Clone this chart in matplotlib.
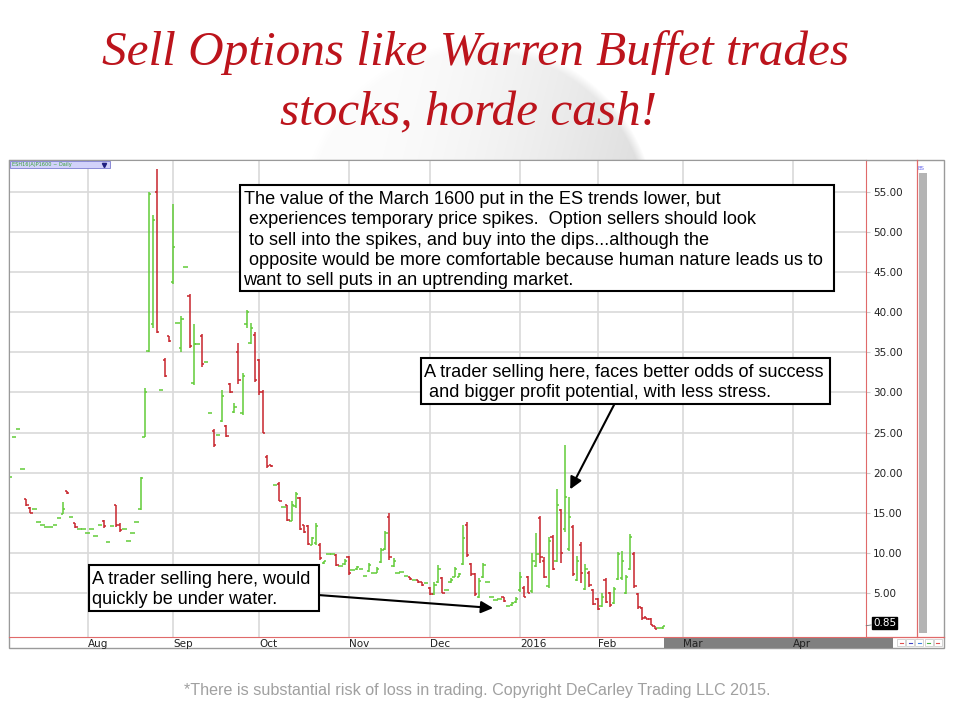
import numpy as np
import matplotlib
matplotlib.use('Agg')
import matplotlib.pyplot as plt
from matplotlib.patches import Rectangle

# daily OHLC of the ESH16 1600 put
opens = [
    19.5, 24.5, 25.4, 20.4, 16.7, 15.6, 15.4, 13.8, 13.4, 13.2,
    13.2, 13.4, 14.3, 14.8, 17.7, 14.4, 13.7, 12.9, 12.9, 12.4,
    12.9, 12.1, 13.4, 13.9, 11.3, 13.3, 15.9, 13.5, 12.9, 11.5,
    12.4, 13.8, 15.4, 24.5, 35.2, 38.5, 55.0, 30.3, 34.0, 37.0,
    43.8, 38.7, 35.5, 45.7, 42.0, 31.2, 36.0, 37.0, 33.8, 27.4,
    25.2, 24.7, 26.5, 25.8, 31.0, 27.6, 35.0, 27.5, 38.5, 36.2,
    37.2, 34.0, 30.0, 22.0, 21.0, 18.4, 18.6, 15.7, 15.9, 14.0,
    15.8, 16.8, 13.4, 13.3, 11.0, 11.2, 11.0, 8.7, 9.8, 9.8,
    9.7, 8.3, 8.6, 9.5, 7.8, 7.9, 7.9, 7.1, 7.7, 7.4,
    7.5, 8.8, 10.5, 14.5, 8.3, 7.4, 7.6, 7.1, 6.9, 6.6,
    6.6, 6.3, 6.2, 5.6, 4.8, 6.3, 6.8, 5.3, 6.3, 7.0,
    7.0, 8.6, 13.5, 8.6, 7.3, 4.5, 6.9, 6.3, 4.4, 4.1,
    4.2, 4.4, 3.3, 3.4, 3.8, 5.3, 5.6, 7.0, 5.2, 8.3,
    14.3, 9.0, 5.8, 12.0, 9.0, 15.3, 13.0, 10.5, 13.2, 6.6,
    11.0, 5.5, 7.5, 5.3, 4.2, 3.3, 6.6, 5.0, 3.7, 6.7,
    6.8, 5.0, 8.0, 9.8, 4.8, 3.1, 1.9, 1.7, 0.8, 0.6,
    0.6]
highs = [
    19.5, 24.5, 25.4, 20.4, 16.7, 15.7, 15.4, 13.8, 13.4, 13.2,
    13.2, 13.4, 14.3, 16.3, 17.7, 14.4, 13.7, 12.9, 12.9, 12.4,
    12.9, 12.1, 13.4, 14.1, 11.3, 13.3, 15.9, 13.7, 12.9, 11.5,
    12.4, 13.8, 19.4, 30.5, 55.1, 52.2, 57.9, 30.3, 34.3, 37.1,
    53.6, 38.7, 39.5, 45.7, 42.3, 38.6, 36.0, 37.3, 33.8, 27.4,
    25.4, 24.7, 30.3, 25.9, 31.2, 28.7, 36.2, 32.4, 40.3, 38.7,
    37.5, 34.2, 30.3, 22.2, 21.0, 18.4, 18.8, 15.7, 16.0, 16.4,
    17.6, 16.9, 13.5, 13.5, 12.0, 13.7, 11.2, 9.0, 9.8, 9.8,
    9.8, 8.3, 9.2, 9.6, 7.8, 8.3, 7.9, 7.1, 8.7, 7.4,
    8.2, 10.6, 12.7, 14.9, 9.3, 7.4, 7.6, 7.1, 6.9, 6.6,
    6.6, 6.3, 6.2, 5.7, 6.3, 8.4, 6.9, 5.3, 6.8, 8.2,
    7.4, 13.4, 13.8, 8.7, 7.4, 6.8, 8.7, 6.3, 4.4, 4.1,
    4.2, 4.4, 3.3, 3.8, 4.4, 7.6, 5.8, 7.1, 9.9, 12.4,
    14.6, 9.4, 11.9, 12.2, 17.9, 15.5, 23.4, 16.9, 13.4, 9.6,
    11.3, 8.6, 7.7, 5.4, 4.3, 4.9, 6.8, 5.1, 5.7, 10.1,
    10.2, 7.2, 12.3, 10.1, 4.9, 3.2, 1.9, 1.8, 0.8, 0.6,
    0.8]
lows = [
    19.5, 24.5, 25.4, 20.4, 15.8, 14.9, 15.4, 13.8, 13.4, 13.2,
    13.2, 13.4, 14.3, 14.8, 17.3, 14.4, 13.1, 12.9, 12.9, 12.4,
    12.9, 12.1, 13.4, 13.1, 11.3, 13.3, 13.2, 12.6, 12.9, 11.5,
    12.4, 13.8, 15.3, 24.4, 35.0, 38.1, 37.4, 30.3, 31.9, 36.3,
    43.5, 38.7, 35.0, 45.7, 35.5, 30.9, 36.0, 33.2, 33.8, 27.4,
    23.2, 24.7, 26.3, 24.4, 29.9, 27.4, 31.1, 27.2, 38.1, 36.0,
    31.3, 29.7, 24.9, 20.6, 20.7, 18.4, 16.4, 15.7, 13.9, 13.9,
    15.6, 12.8, 12.4, 10.9, 10.9, 10.9, 9.1, 8.6, 9.8, 9.8,
    8.3, 8.3, 8.5, 7.2, 7.8, 7.8, 7.9, 7.1, 7.6, 7.4,
    7.4, 8.7, 10.3, 9.1, 8.2, 7.4, 7.6, 7.1, 6.6, 6.6,
    6.2, 5.8, 6.2, 4.7, 4.7, 6.2, 4.9, 5.3, 6.2, 6.9,
    6.9, 8.4, 9.5, 7.1, 4.6, 4.3, 6.8, 6.3, 4.4, 4.1,
    4.2, 3.8, 3.3, 3.3, 3.7, 5.1, 4.4, 4.9, 4.9, 8.2,
    8.7, 6.8, 5.6, 7.8, 8.8, 8.7, 12.6, 10.2, 7.1, 6.4,
    6.2, 5.3, 5.7, 3.4, 2.8, 3.2, 3.7, 3.2, 3.6, 6.6,
    6.6, 4.8, 7.8, 5.6, 3.0, 1.6, 1.7, 0.9, 0.4, 0.6,
    0.5]
closes = [
    19.5, 24.5, 25.4, 20.4, 15.9, 15.0, 15.4, 13.8, 13.4, 13.2,
    13.2, 13.4, 14.3, 15.5, 17.4, 14.4, 13.2, 12.9, 12.9, 12.4,
    12.9, 12.1, 13.4, 13.3, 11.3, 13.3, 13.4, 12.8, 12.9, 11.5,
    12.4, 13.8, 19.3, 30.0, 54.8, 51.5, 37.5, 30.3, 32.0, 36.4,
    48.2, 38.7, 39.2, 45.7, 35.8, 36.0, 36.0, 33.5, 33.8, 27.4,
    23.5, 24.7, 29.5, 24.6, 30.0, 28.2, 31.5, 32.0, 40.0, 38.0,
    31.5, 30.0, 25.0, 20.8, 20.8, 18.4, 16.5, 15.7, 14.1, 16.0,
    17.3, 13.0, 12.6, 11.1, 11.8, 13.3, 9.3, 8.9, 9.8, 9.8,
    8.5, 8.3, 9.0, 7.4, 7.8, 8.2, 7.9, 7.1, 8.5, 7.4,
    8.0, 10.3, 12.4, 9.4, 9.0, 7.4, 7.6, 7.1, 6.7, 6.6,
    6.3, 5.9, 6.2, 4.8, 6.0, 8.0, 5.0, 5.3, 6.6, 8.0,
    7.3, 11.8, 9.7, 7.3, 4.8, 6.5, 8.5, 6.3, 4.4, 4.1,
    4.2, 3.9, 3.3, 3.7, 4.2, 7.0, 4.5, 5.0, 9.0, 9.8,
    9.5, 7.0, 11.5, 8.0, 16.0, 10.0, 17.0, 14.5, 7.3, 9.0,
    7.5, 8.0, 5.9, 3.6, 3.0, 4.5, 3.8, 3.4, 5.5, 9.8,
    9.0, 7.0, 12.0, 5.8, 3.2, 1.8, 1.7, 1.0, 0.5, 0.6,
    0.85]

month_labels = ['Aug', 'Sep', 'Oct', 'Nov', 'Dec', '2016', 'Feb', 'Mar', 'Apr']
month_pos = [19, 40, 61, 83, 103, 125, 144, 165, 192]   # trading-day index
price_ticks = [5, 10, 15, 20, 25, 30, 35, 40, 45, 50, 55]
last_price = '0.85'

title1 = 'Sell Options like Warren Buffet trades'
title2 = 'stocks, horde cash!'
note1 = ('The value of the March 1600 put in the ES trends lower, but\n'
         ' experiences temporary price spikes.  Option sellers should look\n'
         ' to sell into the spikes, and buy into the dips...although the\n'
         ' opposite would be more comfortable because human nature leads us to\n'
         'want to sell puts in an uptrending market.')
note2 = ('A trader selling here, faces better odds of success\n'
         ' and bigger profit potential, with less stress.')
note3 = 'A trader selling here, would\nquickly be under water.'
footer = '*There is substantial risk of loss in trading. Copyright DeCarley Trading LLC 2015.'

GREEN = '#62cc38'
RED = '#c8242c'
PINK = '#e06a6a'

fig = plt.figure(figsize=(9.6, 7.2), dpi=100)

# background layer in pixel coords (faint globe, frame pieces)
bg = fig.add_axes([0, 0, 1, 1], zorder=-5)
yy, xx = np.mgrid[0:720, 0:960].astype(float)
cx, cy, r = 478, 220, 178
nx, ny = (xx - cx) / r, (yy - cy) / r
d = np.sqrt(nx ** 2 + ny ** 2)
shade = np.clip(0.4 + 0.6 * nx + 0.15 * ny, 0, 1)
dark = (0.015 + 0.13 * shade ** 1.4) * np.clip((1 - d) / 0.05, 0, 1)
grey = 1 - dark
bg.imshow(np.dstack([grey, grey, grey]), extent=(0, 960, 720, 0), aspect='auto',
          interpolation='bilinear')
bg.set_xlim(0, 960)
bg.set_ylim(720, 0)
bg.axis('off')

bg.add_patch(Rectangle((9, 160), 935, 488, facecolor='white', edgecolor='#9a9a9a', lw=1))
bg.add_patch(Rectangle((664, 637), 229, 11, facecolor='#808080', edgecolor='none'))
bg.add_patch(Rectangle((919, 173), 8, 460, facecolor='#b4b4b4', edgecolor='none'))
bg.plot([917, 917], [160, 637], color=PINK, lw=0.9)
bg.plot([866, 944], [637, 637], color=PINK, lw=0.9)
bg.text(918, 168, 'BS', fontsize=4, color='#7070ee', va='center')
for i, c in enumerate(['#e05050', '#4040c0', '#4080e0', '#40b040', '#e05050']):
    bg.add_patch(Rectangle((897 + i * 9.2, 639), 8, 7, facecolor='white', edgecolor='#cfcfcf', lw=0.6))
    bg.plot([899.5 + i * 9.2, 902.5 + i * 9.2], [642.5, 642.5], color=c, lw=0.8)

# chart
ax = fig.add_axes([9 / 960, 83 / 720, 857 / 960, 477 / 720])
x = np.arange(len(opens))
o, h, l, c = (np.array(v) for v in (opens, highs, lows, closes))
cols = np.where(c >= o, GREEN, RED)
ax.vlines(x, l, h, colors=cols, lw=1.1)
ax.hlines(o, x - 0.55, x, colors=cols, lw=1.1)
ax.hlines(c, x, x + 0.55, colors=cols, lw=1.1)

ax.set_xlim(-0.25, 209.8)
ax.set_ylim(-0.56, 59.06)
ax.set_xticks(month_pos, month_labels)
for lbl in ax.get_xticklabels():
    lbl.set_horizontalalignment('left')
ax.tick_params(axis='x', length=0, pad=1.5, labelsize=7.5, labelcolor='#222222')
ax.yaxis.tick_right()
ax.set_yticks(price_ticks, ['%.2f' % v for v in price_ticks])
ax.tick_params(axis='y', length=3, color='#cccccc', pad=2, labelsize=7.5, labelcolor='#222222')
ax.grid(True, color='#d9d9d9', lw=1.2)
ax.set_axisbelow(True)
ax.spines['left'].set_color('#9a9a9a')
ax.spines['top'].set_color('#9a9a9a')
ax.spines['right'].set_color(PINK)
ax.spines['bottom'].set_color(PINK)

# last price flag
ax.annotate(last_price, xy=(209.8, c[-1]), xytext=(873, 720 - 623), textcoords='figure pixels',
            fontsize=7.5, color='white', va='center', ha='left', annotation_clip=False,
            bbox=dict(boxstyle='square,pad=0.12', fc='black', ec='black'),
            arrowprops=dict(arrowstyle='-', color='#777777', lw=0.6, shrinkA=0, shrinkB=0))

# arrows from the call-out boxes
ax.annotate('', xy=(137.3, 17.9), xytext=(615, 720 - 403), textcoords='figure pixels',
            arrowprops=dict(arrowstyle='-|>', color='black', lw=1.5, mutation_scale=18,
                            shrinkA=0, shrinkB=0))
ax.annotate('', xy=(118.4, 3.06), xytext=(318, 720 - 595), textcoords='figure pixels',
            arrowprops=dict(arrowstyle='-|>', color='black', lw=1.5, mutation_scale=18,
                            shrinkA=0, shrinkB=0))

# overlay: titles, call-outs, header tag, footer
ov = fig.add_axes([0, 0, 1, 1], zorder=10)
ov.set_xlim(0, 960)
ov.set_ylim(720, 0)
ov.axis('off')

ov.text(475, 65, title1, ha='center', va='baseline', fontsize=35.5, color='#bc141c',
        family='Liberation Serif', style='italic')
ov.text(468, 125, title2, ha='center', va='baseline', fontsize=35.5, color='#bc141c',
        family='Liberation Serif', style='italic')

ov.add_patch(Rectangle((10, 161), 100, 7, facecolor='#d2d2fa', edgecolor='#7b7bd0', lw=0.6))
ov.text(12, 164.8, 'ESH16(A)P1600 ~ Daily', fontsize=3.6, color='#38a038', va='center')
ov.plot([104], [164.5], marker='v', ms=3, color='#202080')

for (x0, y0, x1, y1), txt in [((240, 185, 834, 291), note1),
                              ((421, 358, 830, 404), note2),
                              ((89, 565, 319, 611), note3)]:
    ov.add_patch(Rectangle((x0, y0), x1 - x0, y1 - y0, facecolor='white',
                           edgecolor='black', lw=1.5))
    ov.text(x0 + 3.5, y0 + 6, txt, ha='left', va='top', fontsize=13.1,
            family='Liberation Sans', linespacing=1.255, color='black')

ov.text(477, 690, footer, ha='center', va='center', fontsize=11.6, color='#a0a0a0',
        family='Liberation Sans')

fig.savefig('out.png', dpi=100)
